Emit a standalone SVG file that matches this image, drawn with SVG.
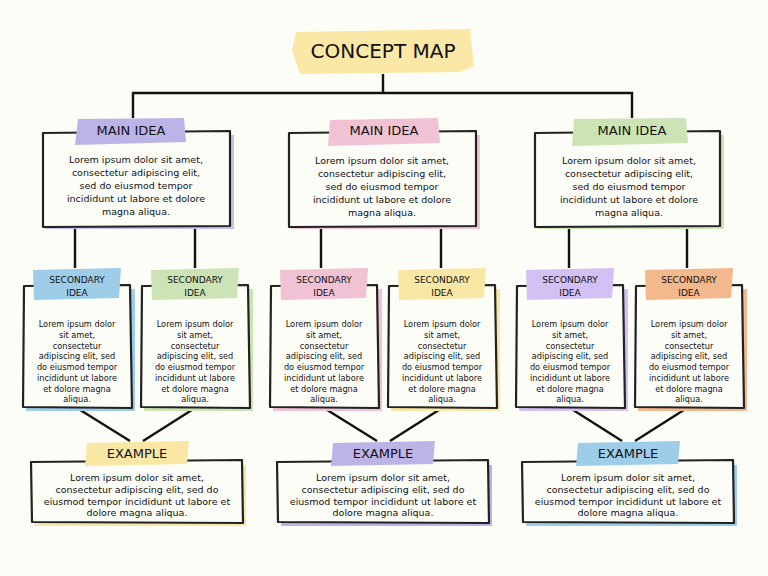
<svg xmlns="http://www.w3.org/2000/svg" width="768" height="576" viewBox="0 0 768 576">
<style>
.bx{fill:#fdfdf8;stroke:#222;stroke-width:2.2;stroke-linejoin:round}
.c{stroke:#111;stroke-width:2.4;fill:none}
text{font-family:"DejaVu Sans",sans-serif;fill:#111;text-anchor:middle}
.t{font-size:20px}.h{font-size:13px}.s{font-size:9px}.b{font-size:9.5px}.sb{font-size:8.2px}
</style>
<rect width="768" height="576" fill="#fdfdf7"/>
<g id="connectors">
<path class="c" d="M383 74V93M133 118V93H632V118"/>
<path class="c" d="M75 226V268M195 226V268M321 226V268M441 226V268M569 226V268M687 226V268"/>
<path class="c" d="M77 408L130 441M195 408L143 441M324 408L377 441M442 408L390 441M570 408L622 441M687 408L635 441"/>
</g>
<g id="title"><path d="M296 32L470 29L474 66L460 72L300 74L292 50Z" fill="#fbe8a6"/><text class="t" x="383" y="58">CONCEPT MAP</text></g>
<g id="main1"><rect x="45" y="135" width="189" height="94" fill="#c9bdf5"/><path class="bx" d="M43 133L230 131L230 226L43 227Z"/><path d="M78 119L184 118L186 142L75 145Z" fill="#bcb4e6"/><text class="h" x="131" y="135">MAIN IDEA</text>
<text class="b" x="136" y="163">Lorem ipsum dolor sit amet,</text><text class="b" x="136" y="176">consectetur adipiscing elit,</text><text class="b" x="136" y="189">sed do eiusmod tempor</text><text class="b" x="136" y="202">incididunt ut labore et dolore</text><text class="b" x="136" y="215">magna aliqua.</text></g>
<g id="main2"><rect x="291" y="135" width="189" height="94" fill="#f0c2d4"/><path class="bx" d="M289 133L476 131L476 226L289 227Z"/><path d="M330 120L438 118L440 143L328 146Z" fill="#f0c2d4"/><text class="h" x="384" y="135">MAIN IDEA</text>
<text class="b" x="382" y="164">Lorem ipsum dolor sit amet,</text><text class="b" x="382" y="177">consectetur adipiscing elit,</text><text class="b" x="382" y="190">sed do eiusmod tempor</text><text class="b" x="382" y="203">incididunt ut labore et dolore</text><text class="b" x="382" y="216">magna aliqua.</text></g>
<g id="main3"><rect x="537" y="135" width="187" height="94" fill="#cce3b5"/><path class="bx" d="M535 133L720 131L720 226L535 227Z"/><path d="M574 119L686 118L688 143L572 146Z" fill="#cce3b5"/><text class="h" x="632" y="135">MAIN IDEA</text>
<text class="b" x="629" y="164">Lorem ipsum dolor sit amet,</text><text class="b" x="629" y="177">consectetur adipiscing elit,</text><text class="b" x="629" y="190">sed do eiusmod tempor</text><text class="b" x="629" y="203">incididunt ut labore et dolore</text><text class="b" x="629" y="216">magna aliqua.</text></g>
<defs>
<g id="sbody"><text class="sb" x="0" y="327">Lorem ipsum dolor</text><text class="sb" x="0" y="338">sit amet,</text><text class="sb" x="0" y="349">consectetur</text><text class="sb" x="0" y="359">adipiscing elit, sed</text><text class="sb" x="0" y="370">do eiusmod tempor</text><text class="sb" x="0" y="381">incididunt ut labore</text><text class="sb" x="0" y="392">et dolore magna</text><text class="sb" x="0" y="402">aliqua.</text></g>
<path id="sbox" class="bx" d="M-53 286L53 285L55 408L-54 407Z"/>
<path id="slab" d="M-44 270L44 268L42 298L-43 300Z"/>
<g id="stxt"><text class="s" x="0" y="283">SECONDARY</text><text class="s" x="0" y="296">IDEA</text></g>
<g id="ebody"><text class="b" x="0" y="481">Lorem ipsum dolor sit amet,</text><text class="b" x="0" y="493">consectetur adipiscing elit, sed do</text><text class="b" x="0" y="505">eiusmod tempor incididunt ut labore et</text><text class="b" x="0" y="516">dolore magna aliqua.</text></g>
<path id="ebox" class="bx" d="M-106 462L105 460L106 523L-105 522Z"/>
<path id="elab" d="M-50 443L52 441L50 464L-52 466Z"/>
</defs>
<g id="sec1" transform="translate(77 0)"><rect x="-51" y="289" width="109" height="122" fill="#9ecde9"/><use href="#sbox"/><use href="#slab" fill="#9ecde9"/><use href="#stxt"/><use href="#sbody"/></g>
<g id="sec2" transform="translate(195 0)"><rect x="-51" y="289" width="109" height="122" fill="#cce3b5"/><use href="#sbox"/><use href="#slab" fill="#cce3b5"/><use href="#stxt"/><use href="#sbody"/></g>
<g id="sec3" transform="translate(324 0)"><rect x="-51" y="289" width="109" height="122" fill="#f0c2d4"/><use href="#sbox"/><use href="#slab" fill="#f0c2d4"/><use href="#stxt"/><use href="#sbody"/></g>
<g id="sec4" transform="translate(442 0)"><rect x="-51" y="289" width="109" height="122" fill="#f9e7a5"/><use href="#sbox"/><use href="#slab" fill="#f9e7a5"/><use href="#stxt"/><use href="#sbody"/></g>
<g id="sec5" transform="translate(570 0)"><rect x="-51" y="289" width="109" height="122" fill="#d3c0f5"/><use href="#sbox"/><use href="#slab" fill="#d3c0f5"/><use href="#stxt"/><use href="#sbody"/></g>
<g id="sec6" transform="translate(689 0)"><rect x="-51" y="289" width="109" height="122" fill="#f3b88c"/><use href="#sbox"/><use href="#slab" fill="#f3b88c"/><use href="#stxt"/><use href="#sbody"/></g>
<g id="ex1" transform="translate(137 0)"><rect x="-102" y="465" width="211" height="61" fill="#f9e7a5"/><use href="#ebox"/><use href="#elab" fill="#f9e7a5"/><text class="h" x="0" y="458">EXAMPLE</text><use href="#ebody"/></g>
<g id="ex2" transform="translate(383 0)"><rect x="-102" y="465" width="211" height="61" fill="#bcb4e6"/><use href="#ebox"/><use href="#elab" fill="#bcb4e6"/><text class="h" x="0" y="458">EXAMPLE</text><use href="#ebody"/></g>
<g id="ex3" transform="translate(628 0)"><rect x="-102" y="465" width="211" height="61" fill="#9ecde9"/><use href="#ebox"/><use href="#elab" fill="#9ecde9"/><text class="h" x="0" y="458">EXAMPLE</text><use href="#ebody"/></g>
</svg>
